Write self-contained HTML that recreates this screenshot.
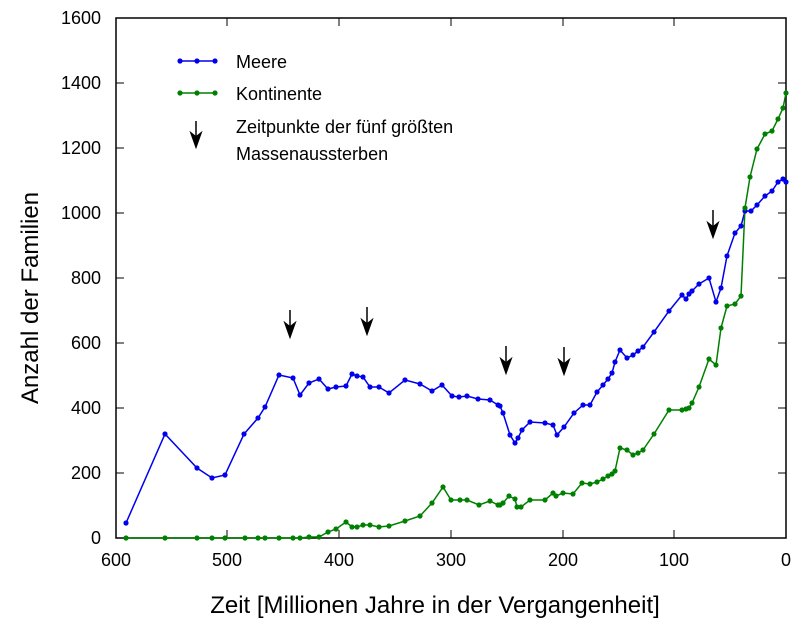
<!DOCTYPE html>
<html><head><meta charset="utf-8"><style>body{margin:0;background:#fff}svg{display:block}text{font-family:"Liberation Sans",sans-serif;fill:#000}</style></head><body>
<svg width="800" height="629" viewBox="0 0 800 629">
<rect x="116" y="18" width="670" height="520" fill="none" stroke="#000" stroke-width="1.5"/>
<g stroke="#000" stroke-width="1">
<path d="M116 473h8M116 408h8M116 343h8M116 278h8M116 213h8M116 148h8M116 83h8M786 473h-8M786 408h-8M786 343h-8M786 278h-8M786 213h-8M786 148h-8M786 83h-8"/>
<path d="M227 538v-8M339 538v-8M451 538v-8M563 538v-8M674 538v-8M227 18v8M339 18v8M451 18v8M563 18v8M674 18v8"/>
</g>
<g font-size="18" text-anchor="end">
<text x="101" y="544">0</text><text x="101" y="479">200</text><text x="101" y="414">400</text><text x="101" y="349">600</text><text x="101" y="284">800</text><text x="101" y="219">1000</text><text x="101" y="154">1200</text><text x="101" y="89">1400</text><text x="101" y="24">1600</text>
</g>
<g font-size="18" text-anchor="middle">
<text x="116" y="566">600</text><text x="227" y="566">500</text><text x="339" y="566">400</text><text x="451" y="566">300</text><text x="563" y="566">200</text><text x="674" y="566">100</text><text x="786" y="566">0</text>
</g>
<text x="435" y="613" font-size="24" text-anchor="middle">Zeit [Millionen Jahre in der Vergangenheit]</text>
<text transform="translate(38,298) rotate(-90)" font-size="24" text-anchor="middle">Anzahl der Familien</text>
<g id="b" fill="none" stroke="#0000ee" stroke-width="1.5">
<polyline points="126,523 165,434 197,468 212,478 225,475 244,434 258,418 265,407 279,375 293,378 300,395 309,383 319,379 328,389 336,387 346,386 352,374 357,376 363,377 370,387 379,387 389,393 405,380 420,384 432,391 442,385 452,396 459,397 467,396 478,399 490,400 498,405 500,406 503,413 510,435 515,443 518,438 522,430 530,422 545,423 553,425 557,435 564,427 574,413 583,405 590,405 597,392 603,385 608,379 612,373 615,362 620,350 627,358 633,355 638,351 643,347 654,332 669,311 682,295 686,299 689,294 692,291 699,284 709,278 716,302 721,288 727,256 735,233 741,226 745,211 751,211 757,205 765,196 772,191 778,182 783,179 786,182"/>
</g>
<g fill="none" stroke="#008000" stroke-width="1.5">
<polyline points="126,538 165,538 197,538 212,538 225,538 245,538 258,538 265,538 279,538 293,538 300,538 309,537 319,537 328,532 336,529 346,522 352,527 357,527 363,525 370,525 379,527 389,526 405,521 420,516 432,503 443,487 451,500 460,500 467,500 479,505 490,501 498,505 500,505 503,503 509,496 515,499 517,507 521,507 530,500 545,500 553,493 556,496 563,493 573,494 582,483 590,484 597,482 603,479 608,476 612,474 615,471 620,448 627,450 633,455 638,453 643,450 654,434 669,410 682,410 686,409 689,408 692,403 699,387 709,359 716,365 721,328 727,306 735,304 741,296 745,208 750,177 757,149 765,134 772,131 778,119 783,108 786,93"/>
</g>
<line x1="180" y1="61" x2="215" y2="61" stroke="#0000ee" stroke-width="1.5"/>
<line x1="180" y1="93" x2="215" y2="93" stroke="#008000" stroke-width="1.5"/>
<g id="arrows" fill="#000" stroke="#000" stroke-width="1.5">
<line x1="196" y1="121" x2="196" y2="140"/><path d="M191 133 L196 147 L201 133 L196 137Z"/>
<line x1="290" y1="310" x2="290" y2="330"/><path d="M285 323 L290 337 L295 323 L290 327Z"/>
<line x1="367" y1="307" x2="367" y2="327"/><path d="M362 320 L367 334 L372 320 L367 324Z"/>
<line x1="506" y1="346" x2="506" y2="366"/><path d="M501 359 L506 373 L511 359 L506 363Z"/>
<line x1="564" y1="347" x2="564" y2="367"/><path d="M559 360 L564 374 L569 360 L564 364Z"/>
<line x1="713" y1="210" x2="713" y2="230"/><path d="M708 223 L713 237 L718 223 L713 227Z"/>
</g>
<g font-size="18">
<text x="236" y="68">Meere</text><text x="236" y="100">Kontinente</text><text x="236" y="133">Zeitpunkte der fünf größten</text><text x="236" y="160">Massenaussterben</text>
</g>
<script>
(function(){var s=document.querySelector('svg');document.querySelectorAll('polyline').forEach(function(p){var c=p.parentNode.getAttribute('stroke');p.getAttribute('points').trim().split(/\s+/).forEach(function(q){var a=q.split(',');var e=document.createElementNS('http://www.w3.org/2000/svg','circle');e.setAttribute('cx',a[0]);e.setAttribute('cy',a[1]);e.setAttribute('r','2.6');e.setAttribute('fill',c);s.appendChild(e);});});
[[197,61,'#0000ee'],[180,61,'#0000ee'],[215,61,'#0000ee'],[180,93,'#008000'],[197,93,'#008000'],[215,93,'#008000']].forEach(function(a){var e=document.createElementNS('http://www.w3.org/2000/svg','circle');e.setAttribute('cx',a[0]);e.setAttribute('cy',a[1]);e.setAttribute('r','2.6');e.setAttribute('fill',a[2]);s.appendChild(e);});})();
</script>
</svg>
</body></html>
